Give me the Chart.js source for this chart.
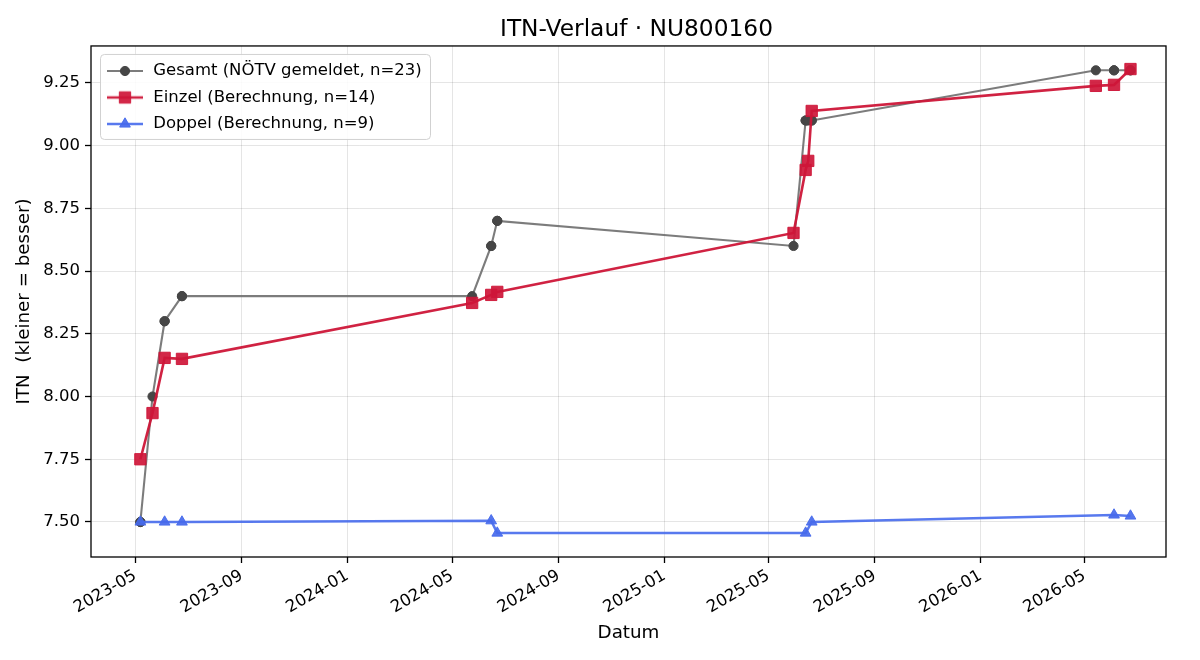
<!DOCTYPE html>
<html><head><meta charset="utf-8">
<script src="https://cdn.jsdelivr.net/npm/chart.js@4.4.1/dist/chart.umd.min.js"></script>
<style>html,body{margin:0;padding:0;background:#fff;}#wrap{width:1200px;height:660px;}</style>
</head><body><div id="wrap"><canvas id="c" width="1200" height="660"></canvas></div>
<script>
const chartTitle = 'ITN-Verlauf · NU800160';
const xAxisTitle = 'Datum';
const yAxisTitle = 'ITN  (kleiner = besser)';

const gesamtLabel = 'Gesamt (NÖTV gemeldet, n=23)';
const gesamtDates = ['2023-05-07','2023-05-07','2023-05-21','2023-06-04','2023-06-04','2023-06-24','2023-06-24',
  '2024-05-24','2024-06-15','2024-06-15','2024-06-22','2024-06-22',
  '2025-05-30','2025-06-13','2025-06-13','2025-06-16','2025-06-20','2025-06-20',
  '2026-05-14','2026-06-04','2026-06-04','2026-06-23','2026-06-23'];
const gesamtValues = [7.50,7.50,8.00,8.30,8.30,8.40,8.40,
  8.40,8.60,8.60,8.70,8.70,
  8.60,9.10,9.10,9.10,9.10,9.10,
  9.30,9.30,9.30,9.30,9.30];

const einzelLabel = 'Einzel (Berechnung, n=14)';
const einzelDates = ['2023-05-07','2023-05-21','2023-06-04','2023-06-24',
  '2024-05-24','2024-06-15','2024-06-22',
  '2025-05-30','2025-06-13','2025-06-16','2025-06-20',
  '2026-05-14','2026-06-04','2026-06-23'];
const einzelValues = [7.75,7.934,8.154,8.15,
  8.373,8.405,8.417,
  8.652,8.903,8.939,9.138,
  9.238,9.242,9.305];

const doppelLabel = 'Doppel (Berechnung, n=9)';
const doppelDates = ['2023-05-07','2023-06-04','2023-06-24',
  '2024-06-15','2024-06-22',
  '2025-06-13','2025-06-20',
  '2026-06-04','2026-06-23'];
const doppelValues = [7.50,7.50,7.50,
  7.505,7.456,
  7.456,7.50,
  7.528,7.524];

const xTickDates = ['2023-05-01','2023-09-01','2024-01-01','2024-05-01','2024-09-01',
  '2025-01-01','2025-05-01','2025-09-01','2026-01-01','2026-05-01'];
const yTicks = [7.50,7.75,8.00,8.25,8.50,8.75,9.00,9.25];
const xRange = ['2023-03-11','2026-08-03'];
const yRange = [7.3605, 9.397];

const FONT = 'DejaVu Sans';
const toTs = s => Date.parse(s);
const pts = (ds, vs) => ds.map((d, i) => ({x: toTs(d), y: vs[i]}));

const styles = [
  {line:'rgba(110,110,110,0.9)', lw:2.1, mark:'#464646', shape:'circle', r:4.6},
  {line:'rgba(206,22,56,0.95)', lw:2.6, mark:'rgba(206,22,56,0.92)', shape:'rect', r:8},
  {line:'rgba(70,106,236,0.9)', lw:2.6, mark:'rgba(70,106,236,0.92)', shape:'triangle', r:6.2}
];

function makeHandle(st) {
  const c = document.createElement('canvas');
  c.width = 36; c.height = 18;
  const g = c.getContext('2d');
  g.strokeStyle = st.line; g.lineWidth = st.lw;
  g.beginPath(); g.moveTo(0, 9); g.lineTo(36, 9); g.stroke();
  g.fillStyle = st.mark; g.strokeStyle = st.mark; g.lineWidth = 1;
  g.beginPath();
  if (st.shape === 'circle') { g.arc(18, 9, st.r, 0, Math.PI * 2); }
  else if (st.shape === 'rect') { const s = st.r * Math.SQRT1_2; g.rect(18 - s, 9 - s, 2 * s, 2 * s); }
  else { const r = st.r; for (let k = 0; k < 3; k++) { const a = k * 2 * Math.PI / 3; const px = 18 + Math.sin(a) * r, py = 9 - Math.cos(a) * r; k ? g.lineTo(px, py) : g.moveTo(px, py); } g.closePath(); }
  g.fill(); g.stroke();
  return c;
}
const handles = styles.map(makeHandle);

const framePlugin = {
  id: 'frame',
  afterDatasetsDraw(chart) {
    const {ctx, chartArea: a} = chart;
    ctx.save();
    ctx.strokeStyle = '#000'; ctx.lineWidth = 1.3;
    ctx.strokeRect(a.left, a.top, a.right - a.left, a.bottom - a.top);
    ctx.restore();
  }
};

const legendPlacer = {
  id: 'legendPlacer',
  afterLayout(chart) {
    const a = chart.chartArea;
    const tb = chart.titleBlock;
    if (tb) { tb.left = a.left + 16; tb.right = a.right; tb.width = tb.right - tb.left; }
    const lg = chart.legend; if (!lg) return;
    lg.left = a.left + 4;
    lg.top = a.top + 6.75;
    if (!lg._framed) {
      const orig = lg.draw;
      lg.draw = function () {
        const ctx = this.ctx, ca = this.chart.chartArea;
        ctx.save();
        ctx.beginPath();
        ctx.roundRect(ca.left + 9.5, ca.top + 8.5, 330, 85, 4);
        ctx.fillStyle = 'rgba(255,255,255,0.85)';
        ctx.fill();
        ctx.strokeStyle = 'rgba(204,204,204,0.9)';
        ctx.lineWidth = 1;
        ctx.stroke();
        ctx.restore();
        orig.apply(this, arguments);
      };
      lg._framed = true;
    }
  }
};

const datasets = [
  {label: gesamtLabel, data: pts(gesamtDates, gesamtValues), order: 3},
  {label: einzelLabel, data: pts(einzelDates, einzelValues), order: 2},
  {label: doppelLabel, data: pts(doppelDates, doppelValues), order: 1}
].map((d, i) => Object.assign(d, {
  borderColor: styles[i].line, borderWidth: styles[i].lw,
  backgroundColor: styles[i].mark,
  pointStyle: styles[i].shape, pointRadius: styles[i].r, pointBorderWidth: 1,
  pointBackgroundColor: styles[i].mark, pointBorderColor: styles[i].mark,
  tension: 0, fill: false
}));

const fmt = v => { const d = new Date(v); return d.getUTCFullYear() + '-' + String(d.getUTCMonth() + 1).padStart(2, '0'); };

new Chart(document.getElementById('c'), {
  type: 'line',
  data: {datasets},
  plugins: [framePlugin, legendPlacer],
  options: {
    responsive: false, animation: false, devicePixelRatio: 1, events: [],
    layout: {padding: {left: 0, right: 34, top: 0, bottom: 0}},
    plugins: {
      title: {display: true, text: chartTitle, color: '#000',
        font: {family: FONT, size: 23.3, weight: 'normal'}, padding: {top: 16, bottom: 2}},
      legend: {
        position: 'chartArea', align: 'start',
        labels: {
          usePointStyle: true, pointStyleWidth: 40, padding: 10, color: '#000',
          font: {family: FONT, size: 16.5},
          generateLabels: (chart) => chart.data.datasets.map((ds, i) => ({
            text: ds.label, pointStyle: handles[i], fillStyle: 'rgba(0,0,0,0)',
            strokeStyle: 'rgba(0,0,0,0)', lineWidth: 0, hidden: false,
            datasetIndex: i, fontColor: '#000'
          }))
        }
      },
      tooltip: {enabled: false}
    },
    scales: {
      x: {
        type: 'linear', min: toTs(xRange[0]), max: toTs(xRange[1]),
        afterBuildTicks: s => { s.ticks = xTickDates.map(d => ({value: toTs(d)})); },
        afterFit: s => { s.height = 103; },
        ticks: {callback: v => fmt(v), minRotation: 30, maxRotation: 30, autoSkip: false,
          color: '#000', padding: 3, font: {family: FONT, size: 16.5}},
        grid: {color: 'rgba(0,0,0,0.1)', lineWidth: 1, tickLength: 6, tickColor: '#000', tickWidth: 1.3},
        border: {display: false},
        title: {display: true, text: xAxisTitle, color: '#000', font: {family: FONT, size: 18.3},
          padding: {top: 0, bottom: 16}}
      },
      y: {
        type: 'linear', min: yRange[0], max: yRange[1],
        afterBuildTicks: s => { s.ticks = yTicks.map(v => ({value: v})); },
        afterFit: s => { s.width = 91; },
        ticks: {callback: v => Number(v).toFixed(2), color: '#000', padding: 5,
          font: {family: FONT, size: 16.5}},
        grid: {color: 'rgba(0,0,0,0.1)', lineWidth: 1, tickLength: 6, tickColor: '#000', tickWidth: 1.3},
        border: {display: false},
        title: {display: true, text: yAxisTitle, color: '#000', font: {family: FONT, size: 18.3},
          padding: {top: 13, bottom: 0}}
      }
    }
  }
});
</script></body></html>
